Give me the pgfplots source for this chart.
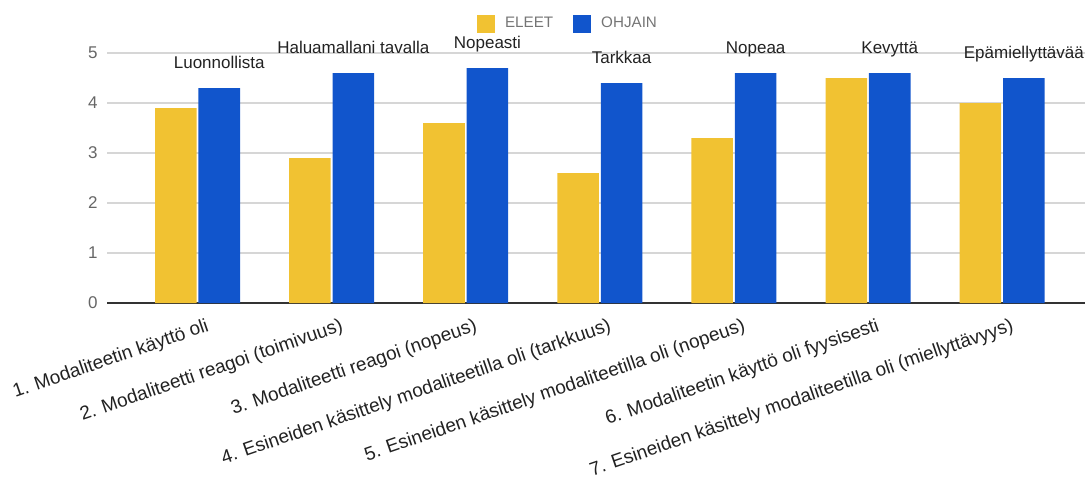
\documentclass[border=0pt]{standalone}
\usepackage{fontspec}
\setmainfont{Liberation Sans}
\usepackage{pgfplots}
\pgfplotsset{compat=1.18}

\definecolor{eleet}{HTML}{F1C232}
\definecolor{ohjain}{HTML}{1155CC}
\definecolor{gridgrey}{HTML}{D6D6D6}
\definecolor{basegrey}{HTML}{333333}
\definecolor{ygrey}{HTML}{666666}
\definecolor{legendgrey}{HTML}{757575}
\definecolor{labeltext}{HTML}{222222}

\begin{document}
\begin{tikzpicture}
% page frame: axis box is 489pt x 125pt with its lower-left corner at the origin
\useasboundingbox (-53.5pt,-90.5pt) rectangle (489pt,151.5pt);
\begin{axis}[
  at={(0,0)}, anchor=south west,
  scale only axis, width=489pt, height=125pt,
  xmin=-0.675, xmax=6.618, ymin=0, ymax=5,
  ybar, bar width=0.31,
  xtick={0,1,2,3,4,5,6},
  xticklabels={
    1. Modaliteetin käyttö oli,
    2. Modaliteetti reagoi (toimivuus),
    3. Modaliteetti reagoi (nopeus),
    4. Esineiden käsittely modaliteetilla oli (tarkkuus),
    5. Esineiden käsittely modaliteetilla oli (nopeus),
    6. Modaliteetin käyttö oli fyysisesti,
    7. Esineiden käsittely modaliteetilla oli (miellyttävyys)},
  ytick={0,1,2,3,4,5},
  ymajorgrids,
  grid style={draw=gridgrey, line width=0.6pt},
  extra y ticks={0}, extra y tick labels={},
  extra y tick style={grid style={draw=basegrey, line width=0.8pt}},
  axis line style={draw=none},
  major tick length=0pt,
  clip=false,
  /pgf/number format/assume math mode=true,
  xticklabel style={font=\fontsize{9.5}{11}\selectfont, text=labeltext,
    xshift=5.5pt, yshift=-11.5pt, rotate=19, anchor=east, inner sep=0pt},
  yticklabel style={font=\fontsize{8.5}{10}\selectfont, text=ygrey, xshift=-1.2pt},
  legend style={at={(0.4724,1.116)}, anchor=center, draw=none, fill=none,
    legend columns=2, font=\fontsize{7.6}{9}\selectfont, text=legendgrey,
    /tikz/every even column/.append style={column sep=8pt}},
]
\addplot[fill=eleet, draw=none, bar shift=-0.162,
  legend image code/.code={\fill[eleet] (0pt,-4.5pt) rectangle (9pt,4.5pt);
    \path (12pt,0pt);}]
  coordinates {(0,3.9) (1,2.9) (2,3.6) (3,2.6) (4,3.3) (5,4.5) (6,4.0)};
\addlegendentry{ELEET}
\addplot[fill=ohjain, draw=none, bar shift=0.162,
  legend image code/.code={\fill[ohjain] (0pt,-4.5pt) rectangle (9pt,4.5pt);
    \path (12pt,0pt);},
  point meta=explicit symbolic,
  nodes near coords={\pgfplotspointmeta},
  every node near coord/.append style={anchor=south, yshift=7.7pt,
    inner sep=0pt, text height=6pt, text depth=1.8pt,
    font=\fontsize{8.5}{10}\selectfont, text=labeltext}]
  coordinates {
    (0,4.3) [Luonnollista]
    (1,4.6) [Haluamallani tavalla]
    (2,4.7) [Nopeasti]
    (3,4.4) [Tarkkaa]
    (4,4.6) [Nopeaa]
    (5,4.6) [Kevyttä]
    (6,4.5) [Epämiellyttävää]};
\addlegendentry{OHJAIN}
\end{axis}
\end{tikzpicture}
\end{document}
